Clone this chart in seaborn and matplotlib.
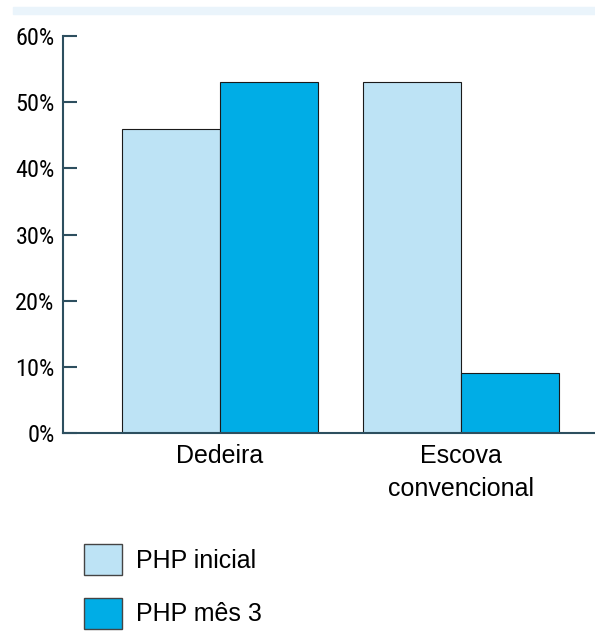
import pandas as pd
import matplotlib.pyplot as plt
import seaborn as sns
from matplotlib.patches import Rectangle

# ---------------- Dados ----------------
grupos = ['Dedeira', 'Escova\nconvencional']
series = ['PHP inicial', 'PHP mês 3']
php_inicial = [46, 53]
php_mes3 = [53, 9]
cores = ['#bde3f5', '#00ade6']
yticks = [0, 10, 20, 30, 40, 50, 60]

df = pd.DataFrame({
    'grupo': grupos * 2,
    'serie': [series[0]] * 2 + [series[1]] * 2,
    'valor': php_inicial + php_mes3,
})

sns.set_style('white')
plt.rcParams['font.family'] = ['Liberation Sans', 'DejaVu Sans']
plt.rcParams['text.color'] = 'black'
plt.rcParams['xtick.color'] = 'black'
plt.rcParams['ytick.color'] = 'black'
eixo = '#2d4f5f'

fig = plt.figure(figsize=(5.95, 6.33), dpi=100)
ax = fig.add_axes([63 / 595, 1 - 433 / 633, 1 - 63 / 595, (433 - 36) / 633])

sns.barplot(data=df, x='grupo', y='valor', hue='serie', palette=cores,
            saturation=1, width=0.81, edgecolor='#1a1a1a', linewidth=0.8,
            ax=ax, legend=False)

# faixa decorativa no topo
fig.patches.append(Rectangle((13 / 595, 1 - 14 / 633), 1, 7 / 633,
                             transform=fig.transFigure, color='#eaf4fb',
                             zorder=0))

ax.set_ylim(0, 60)
ax.set_xlim(-0.651, 1.556)
ax.set_yticks(yticks)
ax.set_yticklabels([f'{t}%' for t in yticks], fontsize=17.5,
                   fontfamily=['Roboto Condensed', 'DejaVu Sans'])
ax.set_xlabel('')
ax.set_ylabel('')
ax.tick_params(axis='y', left=True, direction='in', length=10, width=1.5,
               color=eixo, pad=6)
ax.tick_params(axis='x', length=0, pad=8, labelsize=18)
for lbl in ax.get_xticklabels():
    lbl.set_linespacing(1.45)

for lado in ['top', 'right']:
    ax.spines[lado].set_visible(False)
for lado in ['left', 'bottom']:
    ax.spines[lado].set_color(eixo)
    ax.spines[lado].set_linewidth(1.5)

# legenda
handles = [Rectangle((0, 0), 1, 1, facecolor=c, edgecolor='#444444', linewidth=1)
           for c in cores]
fig.legend(handles, series, loc='upper left',
           bbox_to_anchor=(84 / 595, 1 - 544 / 633),
           frameon=False, fontsize=18, handlelength=1.52, handleheight=1.52,
           labelspacing=0.92, handletextpad=0.56, borderpad=0,
           borderaxespad=0)

plt.savefig('out.png', dpi=100)
